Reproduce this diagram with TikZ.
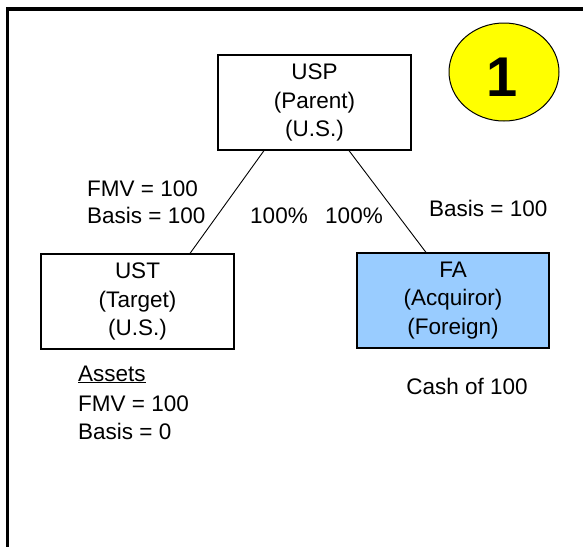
\documentclass[tikz,border=0pt]{standalone}
\usepackage{fontspec}
\setmainfont{Liberation Sans}
\usetikzlibrary{calc,shapes.geometric}
\definecolor{faBlue}{HTML}{99CCFF}
\definecolor{badgeYellow}{HTML}{FFFF00}
\begin{document}
\begin{tikzpicture}[x=1pt,y=-1pt,
  txt/.style={inner sep=0pt,font=\fontsize{22.5}{28.5}\selectfont},
  entity/.style={draw=black,line width=1.2pt,align=center,inner sep=0pt,
    font=\fontsize{22.5}{28.5}\selectfont},
  link/.style={draw=black,line width=0.9pt},
  frameline/.style={draw=black,line width=3.3pt}]
\useasboundingbox (0,0) rectangle (583,547);
% frame
\coordinate (ftl) at (7.5,9);
\coordinate (ftr) at (583,9);
\coordinate (fbl) at (7.5,547);
\draw[frameline] (ftr) -- (ftl) -- (fbl);
% badge
\node[draw=black,line width=1pt,fill=badgeYellow,ellipse,minimum width=110pt,minimum height=98pt,inner sep=0pt] (badge) at (504,72) {};
\node[inner sep=0pt,font=\fontsize{56}{56}\selectfont\bfseries] (one) at (502,77) {1};
% boxes
\node[entity,minimum width=193pt,minimum height=95pt] (usp) at (314.5,102.5) {USP\\(Parent)\\(U.S.)};
\node[entity,minimum width=193pt,minimum height=95pt] (ust) at (137.5,301.5) {UST\\(Target)\\(U.S.)};
\node[entity,fill=faBlue,minimum width=192pt,minimum height=95pt] (fa) at (453,300.5) {FA\\(Acquiror)\\(Foreign)};
% connectors
\draw[link] ([xshift=-50.5pt]usp.south) -- ([xshift=52.5pt]ust.north);
\draw[link] ([xshift=34.5pt]usp.south) -- ([xshift=-27pt]fa.north);
% labels
\node[txt,anchor=base west] (l1) at (87,196) {FMV = 100};
\node[txt,anchor=base west] (l2) at (87,223) {Basis = 100};
\node[txt,anchor=base] (p1) at (279,223) {100\%};
\node[txt,anchor=base] (p2) at (354,223) {100\%};
\node[txt,anchor=base west] (r1) at (429,216) {Basis = 100};
\node[txt,anchor=base west] (a1) at (78,381) {\underline{Assets}};
\node[txt,anchor=base west] (a2) at (78,411) {FMV = 100};
\node[txt,anchor=base west] (a3) at (78,439) {Basis = 0};
\node[txt,anchor=base] (c1) at (467,394) {Cash of 100};
\end{tikzpicture}
\end{document}
